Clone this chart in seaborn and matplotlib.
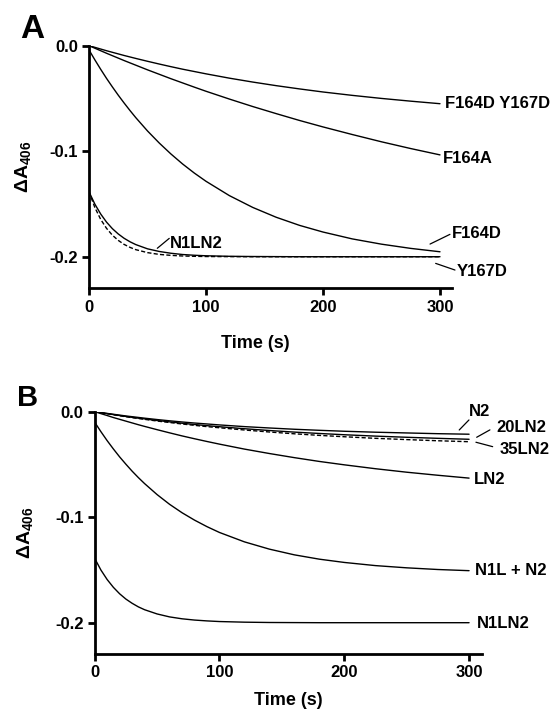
"""Two-panel kinetic traces (Delta A406 vs time) for the heme mutants."""

import matplotlib

matplotlib.use("Agg")
import matplotlib.pyplot as plt
import pandas as pd
import seaborn as sns
from matplotlib.ticker import FormatStrFormatter


TIME_S = [0, 5, 10, 15, 20, 25, 30, 35, 40, 50, 60, 70, 80, 90, 100,
          120, 140, 160, 180, 200, 225, 250, 275, 300]

# panel A traces
A_F164D_Y167D = [0.0, -0.0016, -0.0032, -0.0048, -0.0063, -0.0078, -0.0093, -0.0107,
                 -0.0121, -0.0148, -0.0174, -0.0199, -0.0223, -0.0245, -0.0267,
                 -0.0308, -0.0345, -0.0379, -0.0410, -0.0439, -0.0471, -0.0500,
                 -0.0526, -0.0550]
A_F164A = [0.0, -0.0024, -0.0048, -0.0072, -0.0095, -0.0118, -0.0141, -0.0163,
           -0.0185, -0.0229, -0.0271, -0.0313, -0.0353, -0.0393, -0.0432,
           -0.0506, -0.0577, -0.0644, -0.0709, -0.0770, -0.0842, -0.0911,
           -0.0975, -0.1035]
A_F164D = [-0.0040, -0.0134, -0.0224, -0.0310, -0.0391, -0.0469, -0.0543, -0.0614,
           -0.0682, -0.0808, -0.0922, -0.1026, -0.1121, -0.1207, -0.1285,
           -0.1421, -0.1533, -0.1626, -0.1703, -0.1766, -0.1831, -0.1881,
           -0.1921, -0.1953]
A_N1LN2 = [-0.1384, -0.1501, -0.1595, -0.1672, -0.1734, -0.1784, -0.1825, -0.1858,
           -0.1885, -0.1925, -0.1950, -0.1967, -0.1979, -0.1986, -0.1991,
           -0.1996, -0.1998, -0.1999, -0.2000, -0.2000, -0.2000, -0.2000,
           -0.2000, -0.2000]
A_Y167D = [-0.1384, -0.1533, -0.1646, -0.1731, -0.1796, -0.1845, -0.1883, -0.1911,
           -0.1933, -0.1961, -0.1978, -0.1987, -0.1993, -0.1996, -0.1998,
           -0.1999, -0.2000, -0.2000, -0.2000, -0.2000, -0.2000, -0.2000,
           -0.2000, -0.2000]

# panel B traces
B_N2 = [0.0, -0.0009, -0.0017, -0.0025, -0.0033, -0.0041, -0.0048, -0.0055,
        -0.0062, -0.0075, -0.0087, -0.0098, -0.0108, -0.0117, -0.0126,
        -0.0142, -0.0155, -0.0167, -0.0177, -0.0186, -0.0195, -0.0202,
        -0.0209, -0.0214]
B_20LN2 = [0.0, -0.0010, -0.0019, -0.0028, -0.0037, -0.0046, -0.0054, -0.0062,
           -0.0069, -0.0084, -0.0097, -0.0110, -0.0122, -0.0133, -0.0143,
           -0.0162, -0.0179, -0.0194, -0.0207, -0.0219, -0.0232, -0.0243,
           -0.0253, -0.0262]
B_35LN2 = [0.0, -0.0010, -0.0020, -0.0030, -0.0039, -0.0048, -0.0057, -0.0065,
           -0.0073, -0.0089, -0.0103, -0.0117, -0.0130, -0.0142, -0.0153,
           -0.0174, -0.0193, -0.0210, -0.0225, -0.0238, -0.0253, -0.0265,
           -0.0276, -0.0285]
B_LN2 = [0.0, -0.0019, -0.0037, -0.0056, -0.0073, -0.0090, -0.0107, -0.0124,
         -0.0140, -0.0171, -0.0201, -0.0230, -0.0257, -0.0283, -0.0308,
         -0.0355, -0.0397, -0.0436, -0.0472, -0.0504, -0.0541, -0.0574,
         -0.0603, -0.0630]
B_N1L_N2 = [-0.0100, -0.0190, -0.0275, -0.0354, -0.0429, -0.0498, -0.0564, -0.0625,
            -0.0682, -0.0786, -0.0878, -0.0958, -0.1028, -0.1090, -0.1145,
            -0.1234, -0.1303, -0.1357, -0.1398, -0.1429, -0.1459, -0.1480,
            -0.1496, -0.1507]
B_N1LN2 = [-0.1390, -0.1501, -0.1591, -0.1665, -0.1726, -0.1776, -0.1816, -0.1850,
           -0.1877, -0.1917, -0.1945, -0.1963, -0.1975, -0.1983, -0.1989,
           -0.1995, -0.1998, -0.1999, -0.2000, -0.2000, -0.2000, -0.2000,
           -0.2000, -0.2000]

SERIES_A = [("F164D Y167D", A_F164D_Y167D, False), ("F164A", A_F164A, False),
            ("F164D", A_F164D, False), ("N1LN2", A_N1LN2, False),
            ("Y167D", A_Y167D, True)]
SERIES_B = [("N2", B_N2, False), ("20LN2", B_20LN2, False), ("35LN2", B_35LN2, True),
            ("LN2", B_LN2, False), ("N1L + N2", B_N1L_N2, False),
            ("N1LN2", B_N1LN2, False)]

# label text positions (data coords) and leader lines
LABELS_A = [("F164D Y167D", 304.3, -0.0550), ("F164A", 302.8, -0.1067),
            ("F164D", 310.0, -0.1778), ("Y167D", 314.3, -0.2136),
            ("N1LN2", 69.2, -0.1873)]
LEADERS_A = [((291.5, -0.1880), (308.5, -0.1788)),
             ((296.3, -0.2063), (312.8, -0.2126)),
             ((58.4, -0.1920), (68.6, -0.1826))]
LABELS_B = [("N2", 299.9, 0.0), ("20LN2", 322.1, -0.0152), ("35LN2", 324.2, -0.0363),
            ("LN2", 303.9, -0.0641), ("N1L + N2", 304.7, -0.1507),
            ("N1LN2", 306.1, -0.2006)]
LEADERS_B = [((292.1, -0.0174), (299.9, -0.0079)),
             ((306.1, -0.0243), (316.7, -0.0173)),
             ((305.5, -0.0290), (318.9, -0.0332))]


def draw_panel(ax, series, labels, leaders, xlabel_pos):
    for name, values, dashed in series:
        df = pd.DataFrame({"time": TIME_S, "dA": values})
        sns.lineplot(data=df, x="time", y="dA", ax=ax, color="black", lw=1.0,
                     linestyle=(0, (3, 1.6)) if dashed else "-",
                     estimator=None, sort=False)
    for text, x, y in labels:
        ax.text(x, y, text, ha="left", va="center", fontsize=12,
                fontweight="bold", clip_on=False)
    for p0, p1 in leaders:
        ax.annotate("", xy=p0, xytext=p1, annotation_clip=False,
                    arrowprops=dict(arrowstyle="-", lw=0.9, color="black",
                                    shrinkA=0, shrinkB=0))
    ax.set_xlim(0, 310)
    ax.set_ylim(-0.23, 0.0)
    ax.set_xticks([0, 100, 200, 300])
    ax.set_yticks([0.0, -0.1, -0.2])
    ax.yaxis.set_major_formatter(FormatStrFormatter("%.1f"))
    ax.set_xlabel("Time (s)", fontsize=13, fontweight="bold")
    ax.set_ylabel(r"$\mathregular{\Delta}$A$_{\mathbf{406}}$", fontsize=14,
                  fontweight="bold")
    ax.xaxis.set_label_coords(xlabel_pos[0], xlabel_pos[1])
    ax.yaxis.set_label_coords(-0.153, 0.5)
    ax.tick_params(width=2, length=5, labelsize=12, pad=3, color="black")
    for side in ("left", "bottom"):
        ax.spines[side].set_linewidth(2)
        ax.spines[side].set_color("black")
    sns.despine(ax=ax)


def main() -> None:
    sns.set_style("ticks")
    plt.rcParams["font.family"] = ["Liberation Sans", "DejaVu Sans"]
    plt.rcParams["font.weight"] = "bold"
    plt.rcParams["axes.unicode_minus"] = False
    plt.rcParams["mathtext.fontset"] = "custom"
    plt.rcParams["mathtext.rm"] = "Liberation Sans"
    plt.rcParams["mathtext.bf"] = "Liberation Sans:bold"
    plt.rcParams["mathtext.it"] = "Liberation Sans:italic"
    plt.rcParams["text.color"] = "black"
    plt.rcParams["xtick.color"] = "black"
    plt.rcParams["ytick.color"] = "black"
    plt.rcParams["axes.labelcolor"] = "black"

    fig = plt.figure(figsize=(5.53, 7.19), dpi=100)
    ax_a = fig.add_axes([0.1609, 0.5989, 0.6559, 0.3376])
    ax_b = fig.add_axes([0.1712, 0.0899, 0.6996, 0.3376])

    draw_panel(ax_a, SERIES_A, LABELS_A, LEADERS_A, (0.459, -0.19))
    draw_panel(ax_b, SERIES_B, LABELS_B, LEADERS_B, (0.5, -0.155))

    fig.text(20 / 553, 1 - 38 / 719, "A", fontsize=24, fontweight="bold",
             ha="left", va="baseline")
    fig.text(17 / 553, 1 - 406 / 719, "B", fontsize=21, fontweight="bold",
             ha="left", va="baseline")

    fig.savefig("out.png", dpi=100)
    plt.close(fig)


if __name__ == "__main__":
    main()
